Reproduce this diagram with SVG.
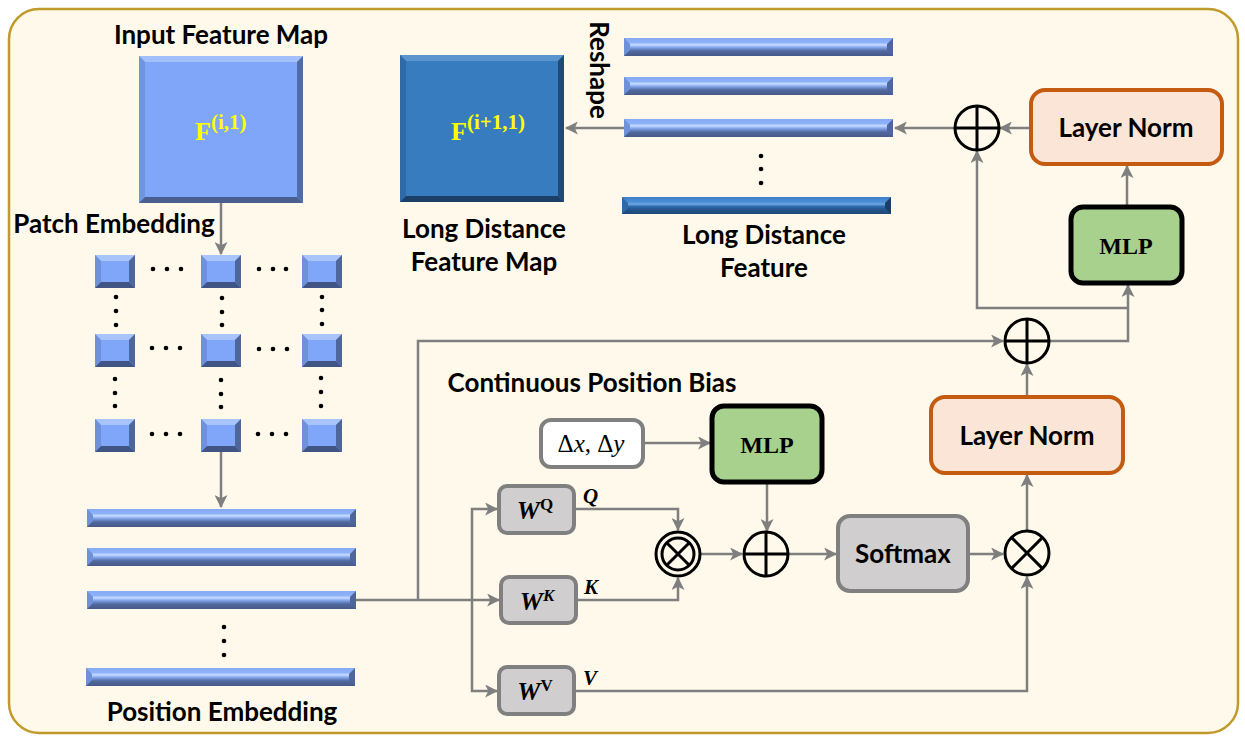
<svg xmlns="http://www.w3.org/2000/svg" xmlns:xlink="http://www.w3.org/1999/xlink" width="1245" height="742" viewBox="0 0 1245 742">
<style>
.lbl{font-family:Lato,"Liberation Sans",sans-serif;font-weight:bold;font-size:26px;fill:#000}
.mth{font-family:"Liberation Serif","DejaVu Serif",serif;font-weight:bold;fill:#000}
.yel{fill:#FFFF00}
.con{fill:none;stroke:#7F7F7F;stroke-width:2.5}
.arr{marker-end:url(#ah)}
.op{fill:none;stroke:#000;stroke-width:3}
.ln{fill:#FBE5D6;stroke:#C55A11;stroke-width:4}
.mlp{fill:#A9D18E;stroke:#000;stroke-width:5}
.gry{fill:#D0CECE;stroke:#808080;stroke-width:4}
.dot{fill:#000}
</style>
<defs>
<marker id="ah" viewBox="0 0 12 12" refX="11" refY="6" markerWidth="13" markerHeight="13" markerUnits="userSpaceOnUse" orient="auto">
<path d="M0,0 L12,6 L0,12 L3,6 z" fill="#7F7F7F"/>
</marker>
<linearGradient id="gb" x1="0" y1="0" x2="0" y2="1">
<stop offset="0" stop-color="#86A9F3"/><stop offset="0.25" stop-color="#8EB2FA"/><stop offset="0.38" stop-color="#C8DCFF"/><stop offset="0.48" stop-color="#93B4F5"/><stop offset="0.6" stop-color="#6E8DCF"/><stop offset="0.72" stop-color="#52699E"/><stop offset="1" stop-color="#465A88"/>
</linearGradient>
<linearGradient id="gd" x1="0" y1="0" x2="0" y2="1">
<stop offset="0" stop-color="#3C80C8"/><stop offset="0.3" stop-color="#4A90D8"/><stop offset="0.42" stop-color="#6FA9E3"/><stop offset="0.55" stop-color="#2F6DB0"/><stop offset="0.72" stop-color="#24568E"/><stop offset="1" stop-color="#1E4877"/>
</linearGradient>
<g id="bar">
<rect x="0" y="0" width="269" height="18" fill="url(#gb)"/>
<polygon points="0,0 6,6 6,12 0,18" fill="#6E91DA"/>
<polygon points="269,0 263,6 263,12 269,18" fill="#4E6699"/>
</g>
<g id="dbar">
<rect x="0" y="0" width="269" height="17" fill="url(#gd)"/>
<polygon points="0,0 6,6 6,11 0,17" fill="#2F6AA6"/>
<polygon points="269,0 263,6 263,11 269,17" fill="#1B3F66"/>
</g>
<g id="patch">
<rect x="0" y="0" width="40" height="33" fill="#7FA6F8"/>
<polygon points="0,0 40,0 34,6 6,6" fill="#A9C4FB"/>
<polygon points="0,0 6,6 6,27 0,33" fill="#6E91DA"/>
<polygon points="40,0 40,33 34,27 34,6" fill="#4E6699"/>
<polygon points="0,33 40,33 34,27 6,27" fill="#415585"/>
</g>
</defs>

<rect x="9" y="9" width="1229" height="724" rx="30" fill="#FEF9EA" stroke="#C09A2A" stroke-width="2.5"/>

<g id="connectors">
<path class="con arr" d="M221,203 V254"/>
<path class="con arr" d="M221,452 V507"/>
<path class="con arr" d="M356,600 H499"/>
<path class="con arr" d="M418,600 V341 H1003"/>
<path class="con arr" d="M472,600 V509 H497"/>
<path class="con arr" d="M472,600 V691 H497"/>
<path class="con arr" d="M574,509 H678 V530"/>
<path class="con arr" d="M576,600 H678 V578"/>
<path class="con arr" d="M701,554 H742"/>
<path class="con arr" d="M643,443 H710"/>
<path class="con arr" d="M767,482 V531"/>
<path class="con arr" d="M789,554 H836"/>
<path class="con arr" d="M968,554 H1003"/>
<path class="con arr" d="M574,691 H1027 V577"/>
<path class="con arr" d="M1027,531 V475"/>
<path class="con arr" d="M1027,397 V364"/>
<path class="con arr" d="M1050,341 H1128 V285"/>
<path class="con arr" d="M1128,308 H977 V151"/>
<path class="con arr" d="M1127,207 V166"/>
<path class="con arr" d="M1031,128 H1000"/>
<path class="con arr" d="M954,128 H895"/>
<path class="con arr" d="M624,128 H566"/>
</g>

<g id="input-feature-map">
<text class="lbl" x="221" y="44" text-anchor="middle">Input Feature Map</text>
<rect x="139" y="56" width="164" height="147" fill="#7FA6F8"/>
<polygon points="139,56 303,56 297,62 145,62" fill="#A3C0FB"/>
<polygon points="139,56 145,62 145,197 139,203" fill="#6F94E0"/>
<polygon points="303,56 303,203 297,197 297,62" fill="#506CA6"/>
<polygon points="139,203 303,203 297,197 145,197" fill="#4A5F8F"/>
<text class="mth yel" x="195" y="140" font-size="26">F<tspan font-size="21" dy="-11">(i,1)</tspan></text>
</g>

<g id="patch-embedding">
<text class="lbl" x="114" y="233" text-anchor="middle">Patch Embedding</text>
<use xlink:href="#patch" x="95" y="255"/><use xlink:href="#patch" x="201" y="255"/><use xlink:href="#patch" x="302" y="255"/>
<use xlink:href="#patch" x="95" y="334"/><use xlink:href="#patch" x="201" y="334"/><use xlink:href="#patch" x="302" y="334"/>
<use xlink:href="#patch" x="95" y="419"/><use xlink:href="#patch" x="201" y="419"/><use xlink:href="#patch" x="302" y="419"/>
<g class="dot">
<circle cx="153" cy="269" r="2.3"/><circle cx="167" cy="269" r="2.3"/><circle cx="181" cy="269" r="2.3"/>
<circle cx="259" cy="269" r="2.3"/><circle cx="273" cy="269" r="2.3"/><circle cx="286" cy="269" r="2.3"/>
<circle cx="152" cy="348" r="2.3"/><circle cx="166" cy="348" r="2.3"/><circle cx="180" cy="348" r="2.3"/>
<circle cx="259" cy="349" r="2.3"/><circle cx="273" cy="349" r="2.3"/><circle cx="287" cy="349" r="2.3"/>
<circle cx="152" cy="434" r="2.3"/><circle cx="166" cy="434" r="2.3"/><circle cx="180" cy="434" r="2.3"/>
<circle cx="258" cy="434" r="2.3"/><circle cx="272" cy="434" r="2.3"/><circle cx="286" cy="434" r="2.3"/>
<circle cx="116" cy="297" r="2.3"/><circle cx="116" cy="311" r="2.3"/><circle cx="116" cy="325" r="2.3"/>
<circle cx="222" cy="298" r="2.3"/><circle cx="222" cy="312" r="2.3"/><circle cx="222" cy="325" r="2.3"/>
<circle cx="322" cy="297" r="2.3"/><circle cx="322" cy="310" r="2.3"/><circle cx="322" cy="324" r="2.3"/>
<circle cx="115" cy="379" r="2.3"/><circle cx="115" cy="393" r="2.3"/><circle cx="115" cy="406" r="2.3"/>
<circle cx="221" cy="380" r="2.3"/><circle cx="221" cy="394" r="2.3"/><circle cx="221" cy="407" r="2.3"/>
<circle cx="321" cy="378" r="2.3"/><circle cx="321" cy="392" r="2.3"/><circle cx="321" cy="406" r="2.3"/>
</g>
</g>

<g id="position-embedding">
<use xlink:href="#bar" x="87" y="509"/>
<use xlink:href="#bar" x="87" y="548"/>
<use xlink:href="#bar" x="87" y="591"/>
<use xlink:href="#bar" x="86" y="668"/>
<circle class="dot" cx="224" cy="627" r="2.3"/><circle class="dot" cx="224" cy="641" r="2.3"/><circle class="dot" cx="224" cy="655" r="2.3"/>
<text class="lbl" x="222" y="721" text-anchor="middle">Position Embedding</text>
</g>

<g id="long-distance-feature-map">
<rect x="400" y="55" width="164" height="147" fill="#387CC0"/>
<polygon points="400,55 564,55 558,61 406,61" fill="#5A95D0"/>
<polygon points="400,55 406,61 406,196 400,202" fill="#2F6AA6"/>
<polygon points="564,55 564,202 558,196 558,61" fill="#1F4A78"/>
<polygon points="400,202 564,202 558,196 406,196" fill="#1B3F66"/>
<text class="mth yel" x="451" y="140" font-size="26">F<tspan font-size="21" dy="-11">(i+1,1)</tspan></text>
<text class="lbl" x="484" y="238" text-anchor="middle">Long Distance</text>
<text class="lbl" x="484" y="271" text-anchor="middle">Feature Map</text>
</g>

<g id="reshape">
<text class="lbl" transform="translate(590,70) rotate(90)" text-anchor="middle">Reshape</text>
</g>

<g id="long-distance-feature">
<use xlink:href="#bar" x="624" y="38"/>
<use xlink:href="#bar" x="624" y="77"/>
<use xlink:href="#bar" x="624" y="119"/>
<use xlink:href="#dbar" x="622" y="197"/>
<circle class="dot" cx="761" cy="156" r="2.3"/><circle class="dot" cx="761" cy="169" r="2.3"/><circle class="dot" cx="761" cy="183" r="2.3"/>
<text class="lbl" x="764" y="244" text-anchor="middle">Long Distance</text>
<text class="lbl" x="764" y="277" text-anchor="middle">Feature</text>
</g>

<g id="add-top">
<circle class="op" cx="977" cy="128" r="22"/>
<path class="op" d="M955,128 H999 M977,106 V150"/>
</g>
<g id="layer-norm-top">
<rect class="ln" x="1031" y="90" width="191" height="74" rx="14"/>
<text class="lbl" x="1126" y="137" text-anchor="middle">Layer Norm</text>
</g>
<g id="mlp-top">
<rect class="mlp" x="1071" y="207" width="111" height="76" rx="12"/>
<text class="mth" x="1126" y="254" text-anchor="middle" font-size="24">MLP</text>
</g>
<g id="add-mid">
<circle class="op" cx="1027" cy="341" r="22"/>
<path class="op" d="M1005,341 H1049 M1027,319 V363"/>
</g>
<g id="layer-norm-mid">
<rect class="ln" x="931" y="397" width="192" height="76" rx="14"/>
<text class="lbl" x="1027" y="445" text-anchor="middle">Layer Norm</text>
</g>

<g id="cpb-title">
<text class="lbl" x="592" y="392" text-anchor="middle" font-size="24">Continuous Position Bias</text>
</g>
<g id="delta">
<rect x="541" y="420" width="102" height="47" rx="10" fill="#FFFFFF" stroke="#808080" stroke-width="4"/>
<text x="591" y="452" text-anchor="middle" font-family="Liberation Serif,DejaVu Serif,serif" font-size="25">Δ<tspan font-style="italic">x</tspan>, Δ<tspan font-style="italic">y</tspan></text>
</g>
<g id="mlp-mid">
<rect class="mlp" x="712" y="406" width="110" height="76" rx="12"/>
<text class="mth" x="767" y="453" text-anchor="middle" font-size="24">MLP</text>
</g>

<g id="wq">
<rect class="gry" x="499" y="486" width="75" height="47" rx="8"/>
<text class="mth" x="535" y="519" text-anchor="middle" font-size="26"><tspan font-style="italic">W</tspan><tspan font-size="17" dy="-9">Q</tspan></text>
<text class="mth" x="583" y="503" font-size="21" font-style="italic">Q</text>
</g>
<g id="wk">
<rect class="gry" x="501" y="577" width="75" height="46" rx="8"/>
<text class="mth" x="537" y="610" text-anchor="middle" font-size="26" font-style="italic">W<tspan font-size="17" dy="-9">K</tspan></text>
<text class="mth" x="584" y="594" font-size="21" font-style="italic">K</text>
</g>
<g id="wv">
<rect class="gry" x="499" y="667" width="75" height="47" rx="8"/>
<text class="mth" x="535" y="700" text-anchor="middle" font-size="26"><tspan font-style="italic">W</tspan><tspan font-size="17" dy="-9">V</tspan></text>
<text class="mth" x="583" y="685" font-size="21" font-style="italic">V</text>
</g>

<g id="mul-qk">
<circle class="op" cx="678" cy="554" r="22"/>
<circle class="op" cx="678" cy="554" r="16"/>
<path class="op" d="M666.7,542.7 L689.3,565.3 M689.3,542.7 L666.7,565.3"/>
</g>
<g id="add-bias">
<circle class="op" cx="766" cy="554" r="22"/>
<path class="op" d="M744,554 H788 M766,532 V576"/>
</g>
<g id="softmax">
<rect class="gry" x="838" y="516" width="130" height="75" rx="12"/>
<text class="lbl" x="903" y="563" text-anchor="middle">Softmax</text>
</g>
<g id="mul-v">
<circle class="op" cx="1027" cy="553" r="22"/>
<path class="op" d="M1011.4,537.4 L1042.6,568.6 M1042.6,537.4 L1011.4,568.6"/>
</g>
</svg>
